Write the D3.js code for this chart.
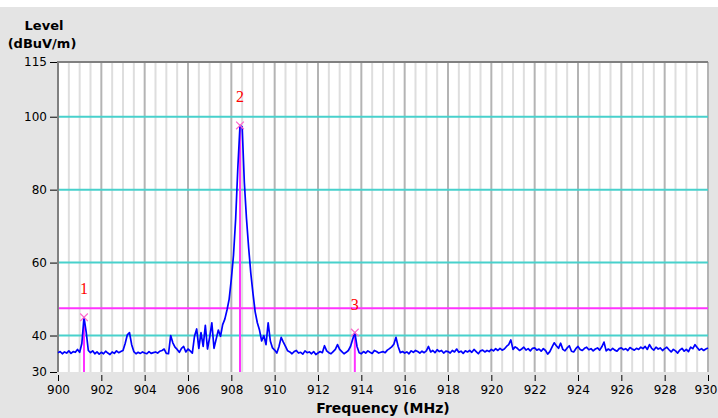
<!DOCTYPE html>
<html>
<head>
<meta charset="utf-8">
<script src="https://cdn.jsdelivr.net/npm/d3@7"></script>
<style>
  html, body { margin: 0; padding: 0; background: #ffffff; }
  svg { display: block; }
</style>
</head>
<body>
<div id="chart"></div>
<script>
// trace, one value every 0.1 MHz from 900.0 to 930.0
var freqStart = 900;
var freqStep = 0.1;
var level = [
    35.3, 35.6, 35.0, 35.5, 35.2, 35.8, 35.1, 35.6, 35.4, 36.2,
    35.4, 37.8, 45.0, 41.0, 35.9, 35.3, 35.8, 35.0, 35.5, 34.9,
    35.4, 35.0, 35.7, 35.2, 34.8, 35.5, 35.1, 35.8, 35.3, 35.6,
    35.9, 37.8, 40.2, 40.8, 37.5, 35.6, 35.0, 35.4, 35.1, 35.5,
    35.2, 35.0, 35.6, 35.1, 35.3, 35.5, 35.2, 35.7, 35.9, 36.3,
    35.1, 35.0, 40.0, 38.0, 36.8, 36.2, 35.4, 36.5, 37.0, 35.5,
    36.3, 35.8, 35.2, 39.8, 41.8, 36.5, 40.8, 37.0, 42.8, 36.3,
    39.5, 43.5, 36.5, 39.0, 41.5, 39.8, 43.0, 44.5, 47.0, 50.0,
    55.5, 62.0, 72.0, 86.0, 97.6, 97.2, 82.0, 72.0, 64.0, 57.0,
    51.5, 46.5, 43.5, 41.5, 38.5, 40.0, 37.5, 43.5, 38.5, 36.6,
    36.0, 35.2, 37.0, 39.5, 38.2, 37.0, 35.8, 35.5, 35.0, 35.6,
    35.9, 35.2, 35.4, 34.9, 35.8, 35.3, 35.5, 35.0, 35.6, 34.8,
    35.2, 35.6, 35.3, 37.2, 35.8, 35.3, 35.0, 35.6, 36.2, 37.5,
    36.2, 35.6, 35.0, 35.4, 35.9, 37.0, 39.0, 40.8, 37.0, 35.3,
    35.0, 35.6, 35.2, 35.8, 35.4, 35.1, 35.9, 35.6, 35.2, 35.4,
    35.6, 35.3, 36.0, 36.4, 36.9, 37.6, 39.5, 37.0, 35.3, 35.6,
    35.2, 35.5, 35.0, 35.8, 35.4, 35.9, 35.6, 35.2, 35.7, 35.3,
    35.8, 37.0, 35.5, 35.9, 35.3, 36.1, 35.6, 35.9, 35.2, 35.7,
    35.6, 35.2, 35.9, 35.5, 36.3, 35.4, 35.7, 35.1, 35.8, 35.5,
    35.9, 35.4, 36.2, 35.6, 35.0, 35.8, 36.0, 35.5, 35.9, 35.6,
    36.2, 35.8, 36.4, 35.9, 36.5, 36.0, 36.3, 37.0, 37.5, 38.8,
    36.2, 36.9, 36.5, 35.9, 36.3, 36.8, 36.0, 36.4, 35.8, 36.5,
    36.6, 36.0, 36.3, 35.7, 36.4, 35.9, 34.9, 35.6, 36.8, 38.0,
    37.2, 36.5, 37.9, 36.2, 35.8, 36.6, 37.2, 35.7, 35.5, 36.4,
    37.0, 36.2, 35.9, 36.5, 36.8, 36.1, 36.4, 35.8, 36.3, 36.6,
    36.0, 36.9, 38.2, 35.8, 36.3, 35.9, 36.5, 36.0, 35.7, 36.4,
    36.6, 36.1, 36.4, 35.9, 36.7, 36.3, 36.0, 36.5, 36.2, 36.8,
    36.4, 37.0, 36.2, 37.5, 36.5, 36.0, 36.8, 36.3, 36.6, 35.9,
    36.4, 36.8, 36.1, 35.5, 36.2, 35.8, 35.2, 36.0, 36.5, 35.7,
    36.2, 35.6, 36.8, 36.4, 37.5, 36.7, 36.0, 36.4, 35.9, 36.3,
    36.6
];

var markerFreq = [901.2, 908.4, 913.7];
var markerLevel = [45.0, 97.6, 40.8];
var markerName = ["1", "2", "3"];

var limitLevel = 47.5;
var levelGrid = [40, 60, 80, 100];
var yTicks = [30, 40, 60, 80, 100, 115];
var xTicks = [900, 902, 904, 906, 908, 910, 912, 914, 916, 918, 920, 922, 924, 926, 928, 930];

function init(){

    var w = 718;
    var h = 418;
    var left = 58, right = 708, top = 62, bottom = 372;
    var font = "'DejaVu Sans', Verdana, sans-serif";

    var trace = level.map(function(v, i){
        return [freqStart + i * freqStep, v];
    });

    var xScale = d3.scaleLinear().domain([900, 930]).range([left, right]);
    var yScale = d3.scaleLinear().domain([30, 115]).range([bottom, top]);

    var svg = d3.select("#chart")
                .append("svg")
                .attr("width", w)
                .attr("height", h)
                .style("font-family", font);

    // panel background
    svg.append("rect")
        .attr("x", 0).attr("y", 7)
        .attr("width", w).attr("height", h - 7)
        .attr("fill", "#e4e4e4");

    svg.append("rect")
        .attr("x", left).attr("y", top)
        .attr("width", right - left).attr("height", bottom - top)
        .attr("fill", "#ffffff");

    // vertical grid every 0.5 MHz, darker every 2 MHz
    var vgrid = d3.range(900, 930.01, 0.5);
    svg.append("g").selectAll("line")
        .data(vgrid)
        .enter()
        .append("line")
        .attr("x1", function(d){ return xScale(d); })
        .attr("x2", function(d){ return xScale(d); })
        .attr("y1", top)
        .attr("y2", bottom)
        .attr("stroke", function(d){
            return (Math.round((d - 900) * 2) % 4 === 0) ? "#b4b4b4" : "#dedede";
        })
        .attr("stroke-width", 2);

    svg.append("g").selectAll("line")
        .data(levelGrid)
        .enter()
        .append("line")
        .attr("x1", left)
        .attr("x2", right)
        .attr("y1", function(d){ return yScale(d); })
        .attr("y2", function(d){ return yScale(d); })
        .attr("stroke", "#48d1cc")
        .attr("stroke-width", 2);

    // limit line
    svg.append("line")
        .attr("x1", left).attr("x2", right)
        .attr("y1", yScale(limitLevel)).attr("y2", yScale(limitLevel))
        .attr("stroke", "#ff33ff")
        .attr("stroke-width", 2);

    // plot frame (left + top)
    svg.append("path")
        .attr("d", "M" + left + "," + bottom + "V" + top + "H" + right)
        .attr("fill", "none")
        .attr("stroke", "#808080")
        .attr("stroke-width", 2);

    // marker drop lines
    svg.append("g").selectAll("line")
        .data(markerFreq)
        .enter()
        .append("line")
        .attr("x1", function(d){ return xScale(d); })
        .attr("x2", function(d){ return xScale(d); })
        .attr("y1", function(d, i){ return yScale(markerLevel[i]); })
        .attr("y2", bottom)
        .attr("stroke", "#ff33ff")
        .attr("stroke-width", 2);

    var line = d3.line()
        .x(function(d){ return xScale(d[0]); })
        .y(function(d){ return yScale(d[1]); });

    svg.append("path")
        .datum(trace)
        .attr("d", line)
        .attr("fill", "none")
        .attr("stroke", "#0000ff")
        .attr("stroke-width", 1.7)
        .attr("stroke-linejoin", "round");

    // marker crosses
    svg.append("g").selectAll("path")
        .data(markerFreq)
        .enter()
        .append("path")
        .attr("transform", function(d, i){
            return "translate(" + xScale(d) + "," + yScale(markerLevel[i]) + ")";
        })
        .attr("d", d3.symbol().type(d3.symbolX).size(40))
        .attr("fill", "none")
        .attr("stroke", "#ff66cc")
        .attr("stroke-width", 1.2);

    svg.append("g").selectAll("text")
        .data(markerFreq)
        .enter()
        .append("text")
        .text(function(d, i){ return markerName[i]; })
        .attr("x", function(d){ return xScale(d); })
        .attr("y", function(d, i){ return yScale(markerLevel[i]) - 23; })
        .attr("text-anchor", "middle")
        .attr("font-family", "'Liberation Serif', 'Times New Roman', serif")
        .attr("font-size", 16)
        .attr("fill", "#ff0000");

    // axes
    var yAxis = d3.axisLeft(yScale).tickValues(yTicks).tickSize(7).tickPadding(3);
    var gy = svg.append("g")
        .attr("transform", "translate(" + (left - 1) + ",0)")
        .call(yAxis);
    gy.select(".domain").remove();
    gy.selectAll("line").attr("stroke", "#000").attr("stroke-width", 1);
    gy.selectAll("text").attr("font-size", 12).attr("fill", "#000")
        .attr("font-family", font);

    var xAxis = d3.axisBottom(xScale).tickValues(xTicks).tickSize(6).tickPadding(4);
    var gx = svg.append("g")
        .attr("transform", "translate(0," + (bottom + 3) + ")")
        .call(xAxis);
    gx.select(".domain").remove();
    gx.selectAll("line").attr("stroke", "#000").attr("stroke-width", 1);
    gx.selectAll("text").attr("font-size", 12).attr("fill", "#000")
        .attr("font-family", font)
        .attr("dx", function(d){ return d === 930 ? -2.5 : 0; });

    svg.append("text")
        .text("Level")
        .attr("x", 44).attr("y", 30)
        .attr("text-anchor", "middle")
        .attr("font-weight", "bold")
        .attr("font-size", 13);

    svg.append("text")
        .text("(dBuV/m)")
        .attr("x", 42).attr("y", 48)
        .attr("text-anchor", "middle")
        .attr("font-weight", "bold")
        .attr("font-size", 13);

    svg.append("text")
        .text("Frequency (MHz)")
        .attr("x", 383).attr("y", 413)
        .attr("text-anchor", "middle")
        .attr("font-weight", "bold")
        .attr("font-size", 14);
}
window.onload = init;
</script>
</body>
</html>
